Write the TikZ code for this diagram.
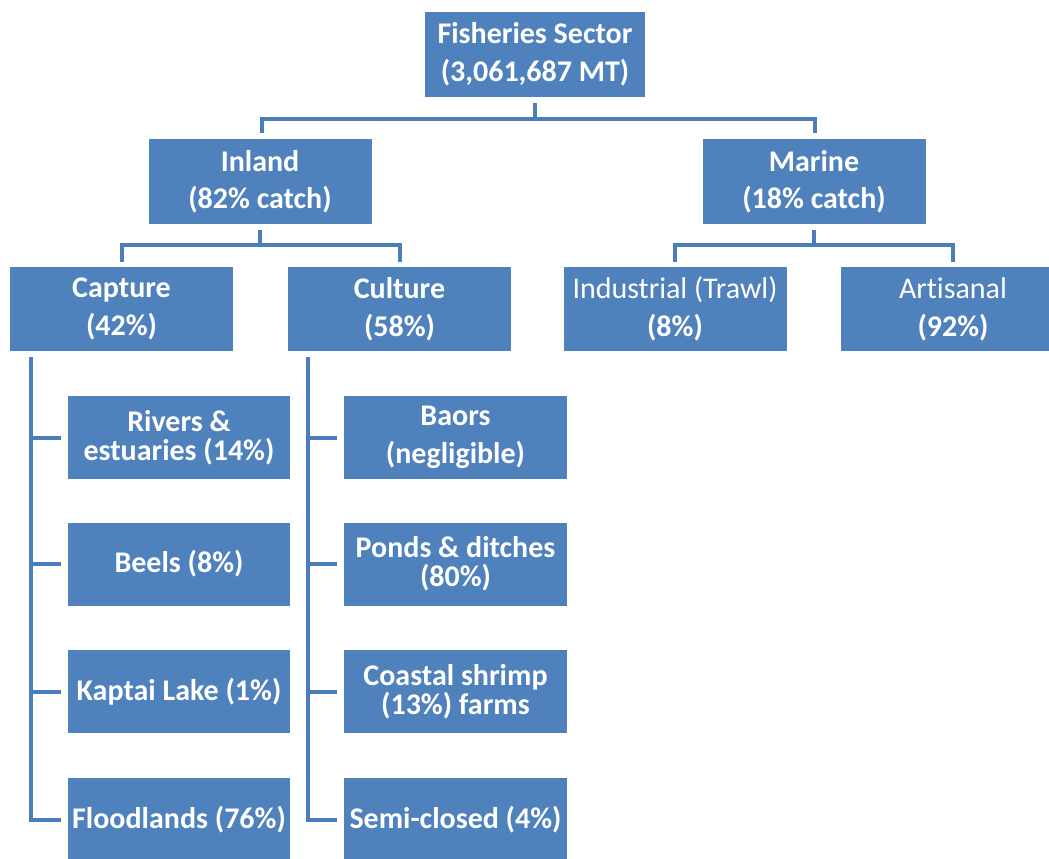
\documentclass[tikz,border=0pt]{standalone}
\usepackage{fontspec}
\setmainfont{Carlito}[Ligatures={NoCommon}]
\definecolor{boxblue}{HTML}{4F81BD}
\definecolor{lineblue}{HTML}{4A7DBA}
\tikzset{
  box/.style={fill=boxblue, text=white, inner sep=0pt, align=center,
    font=\bfseries\fontsize{30}{29}\selectfont},
  wbox/.style={box, minimum width=223pt, minimum height=85pt},
  cbox/.style={box, minimum width=223pt, minimum height=83pt},
  conn/.style={draw=lineblue, line width=4pt, line cap=butt, line join=miter}
}
\begin{document}
\begin{tikzpicture}[x=1pt,y=-1pt]
\useasboundingbox (0,0) rectangle (1049,859);
\clip (0,0) rectangle (1049,859);
\fill[white] (0,0) rectangle (1049,859);
% level 0
\node[wbox, minimum width=220pt] (F) at (535,54.5) {Fisheries Sector\\[9pt](3,061,687 MT)};
% level 1
\node[wbox] (I) at (260,181.5) {Inland\\[8pt](82\% catch)};
\node[wbox] (M) at (814,181.5) {Marine\\[8pt](18\% catch)};
% level 2
\node[wbox, minimum height=84pt] (Cap) at (121.5,309) {Capture\\[9pt](42\%)};
\node[wbox, minimum height=84pt] (Cul) at (399.5,309) {Culture\\[9pt](58\%)};
\node[wbox, minimum height=84pt] (Ind) at (675,309) {\mdseries Industrial (Trawl)\\[9pt]\bfseries(8\%)};
\node[wbox, minimum height=84pt, minimum width=224pt] (Art) at (953,309) {\mdseries Artisanal\\[9pt]\bfseries(92\%)};
% capture children
\node[cbox, minimum width=222pt] (R) at (179,437.5) {Rivers \&\\estuaries (14\%)};
\node[cbox, minimum width=222pt] (B) at (179,564) {Beels (8\%)};
\node[cbox, minimum width=222pt] (K) at (179,691.5) {Kaptai Lake (1\%)};
\node[cbox, minimum width=222pt] (Fl) at (179,819.5) {Floodlands (76\%)};
% culture children
\node[cbox] (Ba) at (455.5,437.5) {Baors\\[9pt](negligible)};
\node[cbox] (P) at (455.5,564) {Ponds \& ditches\\(80\%)};
\node[cbox] (Co) at (455.5,691.5) {Coastal shrimp\\(13\%) farms};
\node[cbox] (S) at (455.5,819.5) {Semi-closed (4\%)};
% connectors level 0 -> 1
\draw[conn] ([yshift=-6pt]F.south) -- ([yshift=-22pt]F.south) -| ([xshift=2pt,yshift=6pt]I.north);
\draw[conn] ([yshift=-22pt]F.south) -| ([xshift=1pt,yshift=6pt]M.north);
% level 1 -> 2
\draw[conn] ([yshift=-6pt]I.south) -- ([yshift=-21pt]I.south) -| ([yshift=5pt]Cap.north);
\draw[conn] ([yshift=-21pt]I.south) -| ([yshift=5pt]Cul.north);
\draw[conn] ([yshift=-6pt]M.south) -- ([yshift=-21pt]M.south) -| ([yshift=5pt]Ind.north);
\draw[conn] ([yshift=-21pt]M.south) -| ([yshift=5pt]Art.north);
% capture bus
\coordinate (capbus) at ([xshift=-91pt,yshift=-6pt]Cap.south);
\draw[conn] (capbus) |- ([xshift=-7pt]Fl.west);
\draw[conn] (capbus |- R.west) -- ([xshift=-7pt]R.west);
\draw[conn] (capbus |- B.west) -- ([xshift=-7pt]B.west);
\draw[conn] (capbus |- K.west) -- ([xshift=-7pt]K.west);
% culture bus
\coordinate (culbus) at ([xshift=-91.5pt,yshift=-6pt]Cul.south);
\draw[conn] (culbus) |- ([xshift=-7pt]S.west);
\draw[conn] (culbus |- Ba.west) -- ([xshift=-7pt]Ba.west);
\draw[conn] (culbus |- P.west) -- ([xshift=-7pt]P.west);
\draw[conn] (culbus |- Co.west) -- ([xshift=-7pt]Co.west);
\end{tikzpicture}
\end{document}
